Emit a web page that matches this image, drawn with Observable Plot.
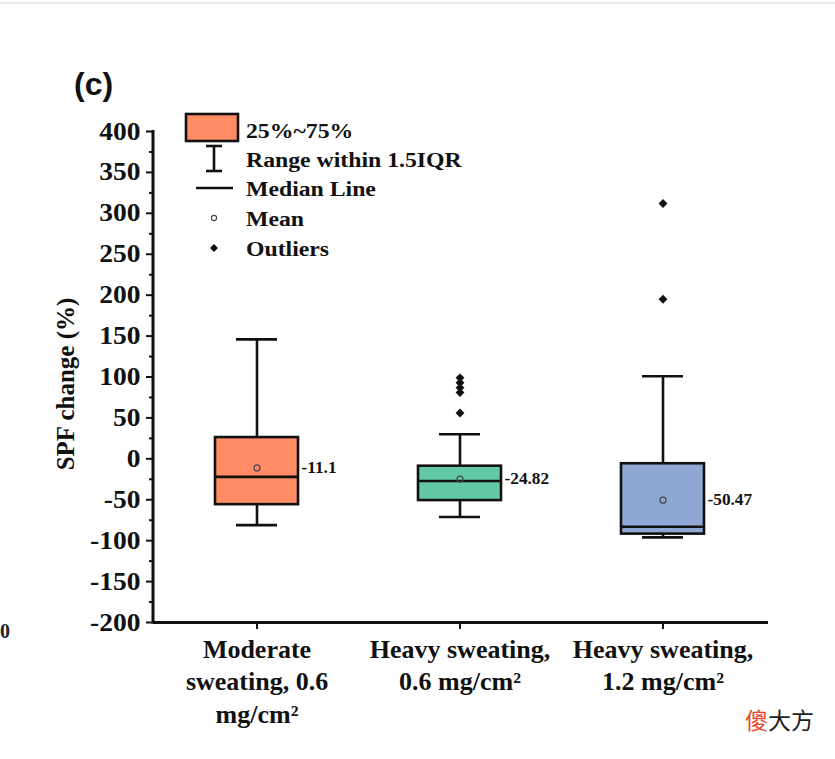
<!DOCTYPE html>
<html><head><meta charset="utf-8">
<script src="https://cdn.jsdelivr.net/npm/d3@7"></script>
<script src="https://cdn.jsdelivr.net/npm/@observablehq/plot@0.6"></script>
<style>
body{margin:0;background:#fff;}
#wrap{position:relative;width:835px;height:759px;overflow:hidden;}
</style></head><body><div id="wrap"></div>
<script>
const categories = ["Moderate sweating, 0.6 mg/cm²", "Heavy sweating, 0.6 mg/cm²", "Heavy sweating, 1.2 mg/cm²"];
const tickLabels = ["Moderate\nsweating, 0.6\nmg/cm²", "Heavy sweating,\n0.6 mg/cm²", "Heavy sweating,\n1.2 mg/cm²"];
const whiskerLow = [-81, -71, -96];
const q1 = [-56, -51, -92];
const median = [-22, -27, -83];
const q3 = [26, -9, -6];
const whiskerHigh = [146, 30, 101];
const means = [-11.1, -24.82, -50.47];
const meanLabels = ["-11.1", "-24.82", "-50.47"];
const colors = ["#FF8C64", "#62C9A4", "#8FA8D3"];
const outlierGroup = [1, 1, 1, 1, 1, 2, 2];
const outlierValues = [56, 81, 87, 93, 99, 195, 312];
const yMajorTicks = [-200, -150, -100, -50, 0, 50, 100, 150, 200, 250, 300, 350, 400];
const yMinorTicks = [-175, -125, -75, -25, 25, 75, 125, 175, 225, 275, 325, 375];
const legendLabels = ["25%~75%", "Range within 1.5IQR", "Median Line", "Mean", "Outliers"];

const boxes = categories.map((c, i) => ({cat: c, lo: whiskerLow[i], q1: q1[i], med: median[i], q3: q3[i], hi: whiskerHigh[i], mean: means[i], label: meanLabels[i], color: colors[i]}));
const outliers = outlierValues.map((v, i) => ({cat: categories[outlierGroup[i]], v}));

const SERIF = "'Liberation Serif','Times New Roman',serif";
const SW = 2.6;
const chart = Plot.plot({
  width: 835, height: 759,
  marginTop: 131, marginBottom: 137, marginLeft: 153, marginRight: 67,
  style: {fontFamily: SERIF, fontWeight: "bold", fontSize: "25px", color: "#111", background: "transparent", overflow: "visible"},
  x: {type: "band", domain: categories, range: [153.75, 764.25], padding: 0, axis: null},
  y: {domain: [-200, 400], axis: null},
  color: {type: "identity"},
  marks: [
    Plot.axisY({ticks: yMajorTicks, tickSize: 7, tickPadding: 6, strokeWidth: 2, label: null, fontSize: 25, tickFormat: d => String(d)}),
    Plot.axisY({ticks: yMinorTicks, tickSize: 4, tickFormat: () => "", strokeWidth: 2, label: null}),
    Plot.axisX({tickSize: 7, tickPadding: 5, strokeWidth: 2, label: null, fontSize: 25, lineHeight: 1.3,
      tickFormat: d => tickLabels[categories.indexOf(d)]}),
    Plot.ruleY([-200], {strokeWidth: 3, stroke: "#111"}),
    Plot.ruleX(boxes, {x: "cat", y1: "lo", y2: "hi", strokeWidth: SW, stroke: "#111"}),
    Plot.tickY(boxes, {x: "cat", y: "lo", insetLeft: 81, insetRight: 81, strokeWidth: SW, stroke: "#111"}),
    Plot.tickY(boxes, {x: "cat", y: "hi", insetLeft: 81, insetRight: 81, strokeWidth: SW, stroke: "#111"}),
    Plot.barY(boxes, {x: "cat", y1: "q1", y2: "q3", fill: "color", stroke: "#111", strokeWidth: SW, insetLeft: 60, insetRight: 60}),
    Plot.tickY(boxes, {x: "cat", y: "med", insetLeft: 60, insetRight: 60, strokeWidth: SW, stroke: "#111"}),
    Plot.dot(boxes, {x: "cat", y: "mean", r: 3, stroke: "#445", strokeWidth: 1.2, fill: "none"}),
    Plot.dot(outliers, {x: "cat", y: "v", symbol: "diamond2", r: 4, fill: "#111", stroke: "none"}),
    Plot.text(boxes, {x: "cat", y: "mean", text: "label", dx: 44.5, textAnchor: "start", fontSize: 16, fontWeight: "bold"})
  ]
});
document.getElementById("wrap").appendChild(chart);

const svg = d3.select(chart);
function stretch(sel, k) {
  sel.each(function () {
    const t = this.getAttribute("transform") || "";
    this.setAttribute("transform", t + ` scale(${k},1)`);
  });
}
stretch(svg.selectAll('g[aria-label="y-axis tick label"] text'), 1.1);
stretch(svg.selectAll('g[aria-label="x-axis tick label"] text'), 1.04);
stretch(svg.selectAll('g[aria-label="text"] text'), 1.08);

const y = chart.scale("y");
// left axis line
svg.append("line").attr("x1", 153).attr("x2", 153).attr("y1", y.apply(400) - 1).attr("y2", y.apply(-200) + 1.5)
  .attr("stroke", "#111").attr("stroke-width", 3);
// top border
svg.append("line").attr("x1", 0).attr("x2", 835).attr("y1", 3).attr("y2", 3).attr("stroke", "#e4e4e4").attr("stroke-width", 1.5);
// title
svg.append("text").attr("transform", "translate(74,95)").attr("text-anchor", "start").text("(c)")
  .attr("font-family", "'Liberation Sans',Arial,sans-serif").attr("font-weight", "bold").attr("font-size", 32).attr("fill", "#111");
// y label
svg.append("text").attr("transform", "translate(74,384) rotate(-90)").attr("text-anchor", "middle").text("SPF change (%)")
  .attr("font-family", SERIF).attr("font-weight", "bold").attr("font-size", 25).attr("fill", "#111");
// fragment of neighbouring panel's tick label
svg.append("text").attr("transform", "translate(0,638)").attr("text-anchor", "start").text("0")
  .attr("font-family", SERIF).attr("font-weight", "bold").attr("font-size", 20).attr("fill", "#222");

// legend
const lg = svg.append("g").attr("font-family", SERIF).attr("font-weight", "bold").attr("font-size", 22).attr("fill", "#111").attr("text-anchor", "start");
lg.append("rect").attr("x", 186).attr("y", 114).attr("width", 52).attr("height", 27).attr("fill", colors[0]).attr("stroke", "#111").attr("stroke-width", SW);
const legendY = [130, 159, 188, 218, 248];
legendLabels.forEach((t, i) => lg.append("text").attr("transform", `translate(246,${legendY[i]}) scale(1.08,1)`).attr("dy", "0.35em").text(t));
lg.append("line").attr("x1", 214).attr("x2", 214).attr("y1", 146).attr("y2", 171).attr("stroke", "#111").attr("stroke-width", SW);
lg.append("line").attr("x1", 206).attr("x2", 222).attr("y1", 146).attr("y2", 146).attr("stroke", "#111").attr("stroke-width", SW);
lg.append("line").attr("x1", 206).attr("x2", 222).attr("y1", 171).attr("y2", 171).attr("stroke", "#111").attr("stroke-width", SW);
lg.append("line").attr("x1", 196).attr("x2", 233).attr("y1", 188).attr("y2", 188).attr("stroke", "#111").attr("stroke-width", SW);
lg.append("circle").attr("cx", 214).attr("cy", 218).attr("r", 2.6).attr("fill", "none").attr("stroke", "#445").attr("stroke-width", 1.1);
lg.append("path").attr("d", d3.symbol(d3.symbolDiamond2, 40)()).attr("transform", "translate(214,248)").attr("fill", "#111");

// watermark
const wm = svg.append("text").attr("transform", "translate(745,729)").attr("text-anchor", "start").attr("font-weight", "normal")
  .attr("font-family", "'Noto Sans CJK SC',sans-serif").attr("font-size", 23);
wm.append("tspan").attr("fill", "#e8462c").text("傻");
wm.append("tspan").attr("fill", "#222").text("大方");
</script>
</body></html>
